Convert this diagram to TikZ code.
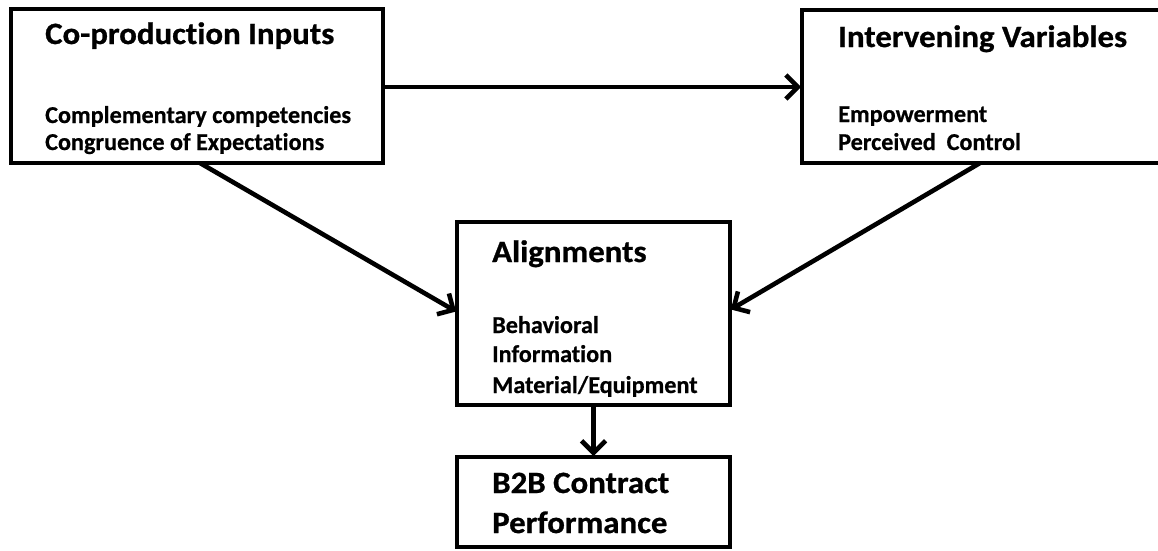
\documentclass[tikz,border=0pt]{standalone}
\usepackage{fontspec}
\setmainfont{Carlito}[Ligatures=NoCommon, FakeBold=0.6]
\newfontfamily\ttlfont[FakeStretch=1.06, Ligatures=NoCommon, FakeBold=0.8]{Carlito}
\usetikzlibrary{arrows.meta}
\begin{document}
\begin{tikzpicture}[x=1pt,y=1pt,
  box/.style={draw=black, line width=4.6pt, rectangle, outer sep=0pt, inner sep=0pt, anchor=north west},
  ttl/.style={anchor=base west, inner sep=0pt, font=\ttlfont\bfseries\fontsize{31}{36}\selectfont},
  sub/.style={anchor=base west, inner sep=0pt, font=\bfseries\fontsize{24.2}{28}\selectfont},
  arr/.style={line width=4.6pt, -{Straight Barb[length=12pt,width=24pt]}, shorten >=1pt}]
\useasboundingbox (0,0) rectangle (1158,-550);
% boxes
\node[box, minimum width=372pt, minimum height=154pt] (b1) at (11,-9) {};
\node[box, minimum width=358pt, minimum height=153pt] (b2) at (802,-10) {};
\node[box, minimum width=273pt, minimum height=183pt] (b3) at (457,-222) {};
\node[box, minimum width=273pt, minimum height=90pt] (b4) at (457,-457) {};
% texts
\node[ttl] (t1) at (45,-44) {Co-production Inputs};
\node[sub] (t1a) at (45,-123) {Complementary competencies};
\node[sub] (t1b) at (45,-150) {Congruence of Expectations};
\node[ttl] (t2) at (838,-47) {Intervening Variables};
\node[sub] (t2a) at (838,-122) {Empowerment};
\node[sub] (t2b) at (838,-150) {Perceived\ \ Control};
\node[ttl] (t3) at (492,-262) {Alignments};
\node[sub] (t3a) at (492,-333) {Behavioral};
\node[sub] (t3b) at (492,-362) {Information};
\node[sub] (t3c) at (492,-393) {Material/Equipment};
\node[ttl] (t4) at (492,-493) {B2B Contract};
\node[ttl] (t4b) at (492,-533) {Performance};
% connectors
\draw[arr] ([yshift=-78pt]b1.north east) -- ([yshift=-77pt]b2.north west);
\draw[arr] ([xshift=189pt]b1.south west) -- ([yshift=-90pt]b3.north west);
\draw[arr] ([xshift=178pt]b2.south west) -- ([yshift=-88pt]b3.north east);
\draw[arr] (b3.south) -- (b4.north);
\end{tikzpicture}
\end{document}
